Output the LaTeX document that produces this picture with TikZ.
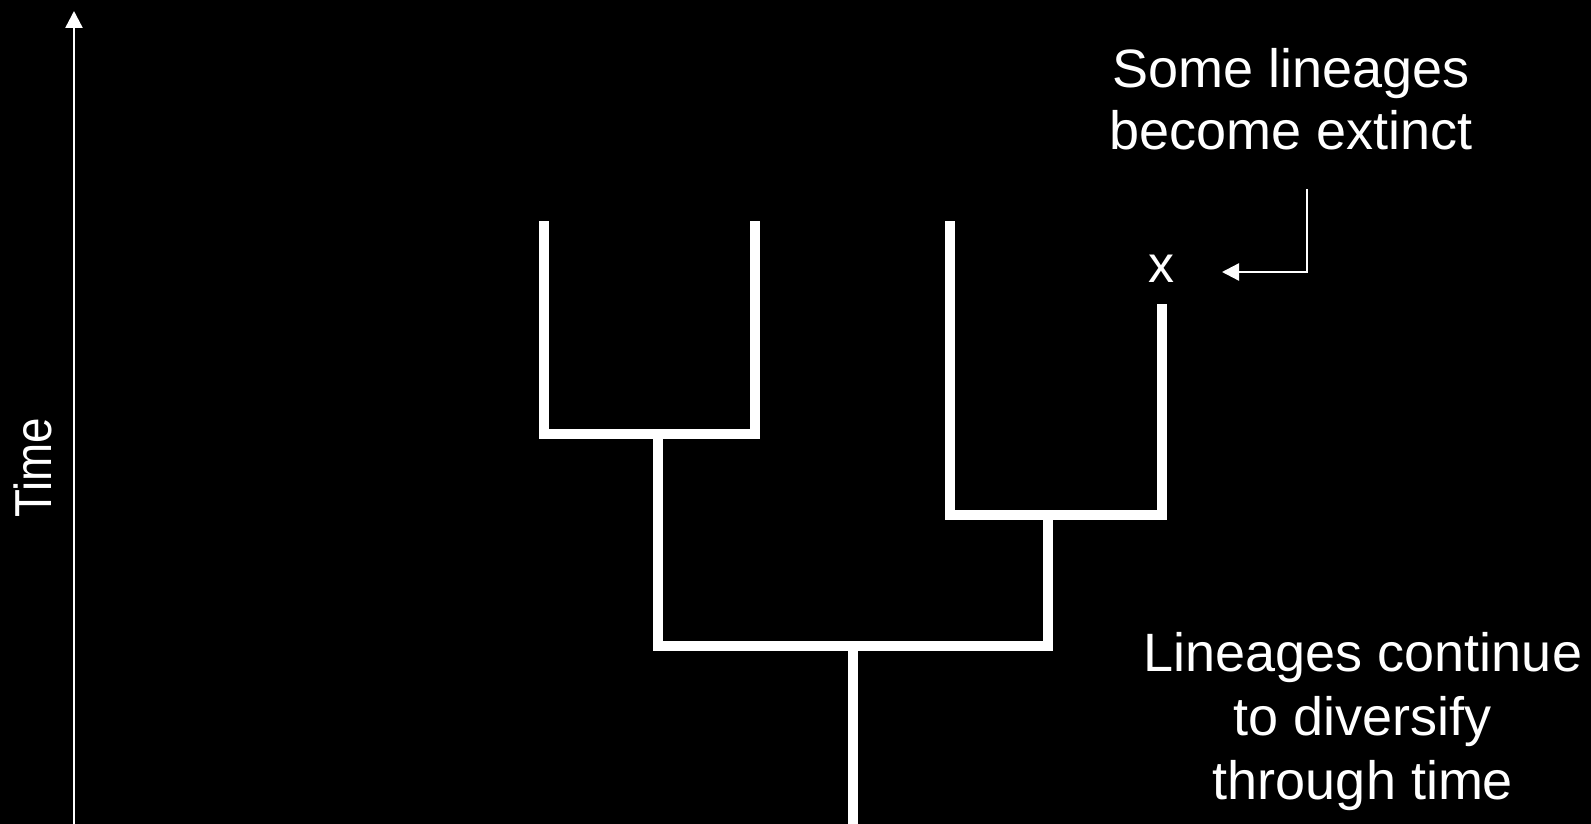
\documentclass[tikz,border=0pt]{standalone}
\usepackage{fontspec}
\setmainfont{Liberation Sans}
\usetikzlibrary{arrows.meta}
\tikzset{
  branch/.style={draw=white, line width=10pt, line join=miter, line cap=butt},
  thinarrow/.style={draw=white, line width=2.4pt, -{Triangle[length=17pt,width=17pt]}},
  label/.style={text=white, inner sep=0pt, align=center, font=\fontsize{54}{62.5}\selectfont},
}
\begin{document}
\begin{tikzpicture}[x=1pt,y=-1pt]
\fill[black] (0,0) rectangle (1591,824);
\useasboundingbox (0,0) rectangle (1591,824);
% time axis
\coordinate (tb) at (74,824);
\coordinate (tt) at (74,11);
\draw[thinarrow] (tb) -- (tt);
\node[label, rotate=90, font=\fontsize{52}{60}\selectfont] (time) at (33,468) {\scalebox{0.88}[1]{Time}};
% tree
\coordinate (l1) at (544,221);
\coordinate (l2) at (755,221);
\coordinate (ln) at (658,434);
\coordinate (r1) at (950,221);
\coordinate (r2) at (1162,304);
\coordinate (rn) at (1048,515);
\coordinate (root) at (853,646);
\coordinate (rb) at (853,830);
\draw[branch] (l1) |- (ln) -| (l2);
\draw[branch] (r1) |- (rn) -| (r2);
\draw[branch] (ln) |- (root) -| (rn);
\draw[branch] (root) -- (rb);
% extinct marker
\node[label, font=\fontsize{52}{60}\selectfont] (x) at (1161,269) {x};
\node[label] (ext) at (1291,99) {Some lineages\\become extinct};
\coordinate (a1) at (1307,189);
\coordinate (a2) at (1222,272);
\draw[thinarrow] (a1) |- (a2);
\node[label, font=\fontsize{54}{64}\selectfont] (div) at (1363,722) {Lineages continue\\to diversify\\through time};
\end{tikzpicture}
\end{document}
